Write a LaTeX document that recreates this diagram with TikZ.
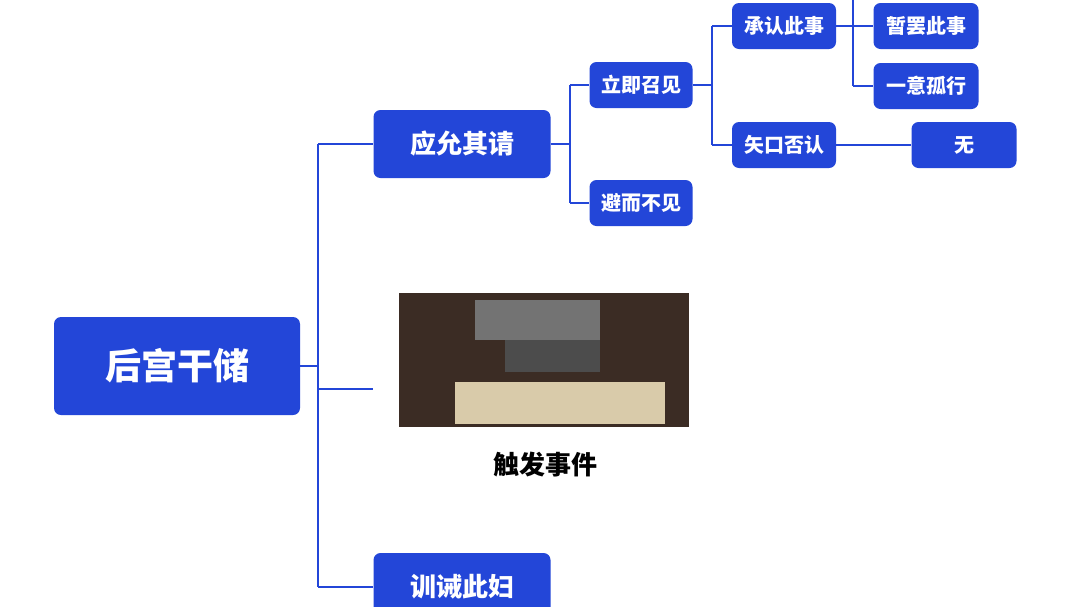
\documentclass[tikz,border=0pt]{standalone}
\usepackage{fontspec}
\newfontfamily\cjk{Noto Sans CJK SC}
\definecolor{mblue}{HTML}{2346D8}
\definecolor{pic}{HTML}{3B2C24}
\definecolor{parch}{HTML}{D9CBAA}
\begin{document}
\begin{tikzpicture}[x=1pt,y=-1pt,
  box/.style={fill=mblue,rounded corners=7pt,text=white,font=\cjk\bfseries,inner sep=0pt,anchor=center},
  ln/.style={draw=mblue,line width=2.5pt}]
\useasboundingbox (0,0) rectangle (1080,606);
\fill[white] (0,0) rectangle (1080,606);
\node[box,minimum width=246pt,minimum height=98pt,font=\cjk\bfseries\fontsize{36}{40}\selectfont] (root) at (177,366) {后宫干储};
\node[box,minimum width=177pt,minimum height=68pt,font=\cjk\bfseries\fontsize{26}{30}\selectfont] (a) at (462,144) {应允其请};
\node[box,minimum width=177pt,minimum height=68pt,font=\cjk\bfseries\fontsize{26}{30}\selectfont] (c) at (462,587) {训诫此妇};
\node[box,minimum width=103pt,minimum height=46pt,font=\cjk\bfseries\fontsize{20}{24}\selectfont] (a1) at (641,85) {立即召见};
\node[box,minimum width=103pt,minimum height=46pt,font=\cjk\bfseries\fontsize{20}{24}\selectfont] (a2) at (641,203) {避而不见};
\node[box,minimum width=104pt,minimum height=46pt,font=\cjk\bfseries\fontsize{20}{24}\selectfont] (b1) at (784,26) {承认此事};
\node[box,minimum width=104pt,minimum height=46pt,font=\cjk\bfseries\fontsize{20}{24}\selectfont] (b2) at (784,145) {矢口否认};
\node[box,minimum width=105pt,minimum height=46pt,font=\cjk\bfseries\fontsize{20}{24}\selectfont] (d1) at (926,26) {暂罢此事};
\node[box,minimum width=105pt,minimum height=46pt,font=\cjk\bfseries\fontsize{20}{24}\selectfont] (d2) at (926,86) {一意孤行};
\node[box,minimum width=105pt,minimum height=46pt,font=\cjk\bfseries\fontsize{20}{24}\selectfont] (e1) at (964,145) {无};
% picture
\node[fill=pic,minimum width=290pt,minimum height=134pt,inner sep=0pt] (img) at (544,360) {};
\fill[parch] (455,382) rectangle (665,424);
\fill[black!70] (505,340) rectangle (600,372);
\fill[black!55] (475,300) rectangle (600,340);
\node[font=\cjk\bfseries\fontsize{26}{30}\selectfont] (lbl) at (545,465) {触发事件};
\coordinate (imgin) at (373,389);
\coordinate (top) at (853,0);
% connectors
\draw[ln] (root.east) -- (318,366);
\draw[ln] (318,144) -- (318,587);
\draw[ln] (318,144) -- (a.west);
\draw[ln] (318,587) -- (c.west);
\draw[ln] (318,389) -- (imgin);
\draw[ln] (a.east) -- (570,144);
\draw[ln] (570,85) -- (570,203);
\draw[ln] (570,85) -- (a1.west);
\draw[ln] (570,203) -- (a2.west);
\draw[ln] (a1.east) -- (712,85);
\draw[ln] (712,26) -- (712,145);
\draw[ln] (712,26) -- (b1.west);
\draw[ln] (712,145) -- (b2.west);
\draw[ln] (b1.east) -- (853,26);
\draw[ln] (top) -- (853,86);
\draw[ln] (853,26) -- (d1.west);
\draw[ln] (853,86) -- (d2.west);
\draw[ln] (b2.east) -- (e1.west);
\end{tikzpicture}
\end{document}
